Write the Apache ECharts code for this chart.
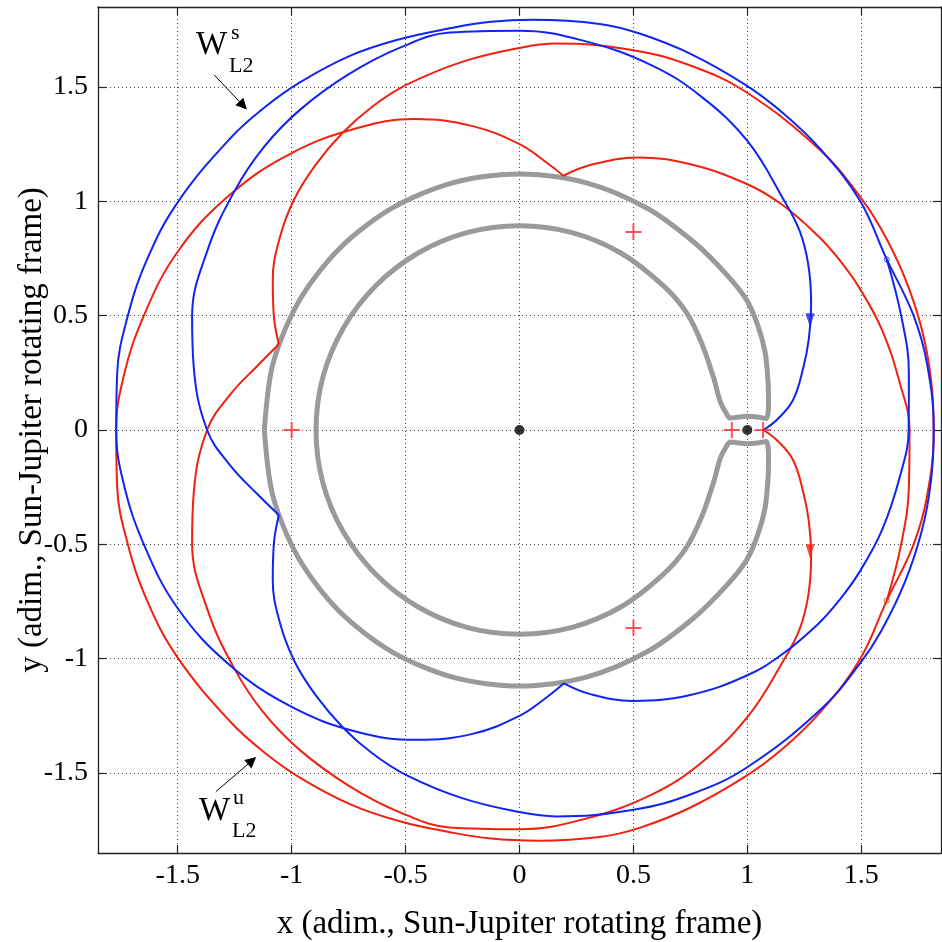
<!DOCTYPE html>
<html>
<head>
<meta charset="utf-8">
<script src="https://cdn.jsdelivr.net/npm/echarts@6/dist/echarts.min.js"></script>
<style>
html,body{margin:0;padding:0;background:#fff;}
#chart{width:942px;height:942px;}
</style>
</head>
<body>
<div id="chart"></div>
<script>
// ---- tick values ----
const xTicks = [-1.5, -1, -0.5, 0, 0.5, 1, 1.5];
const yTicks = [-1.5, -1, -0.5, 0, 0.5, 1, 1.5];

// ---- stable manifold W^s_L2 (blue), split at its two cusps ----
const blueSeg1 = [
  [1.07,0.0],[1.13,0.045],[1.20,0.13],[1.245,0.27],[1.27,0.40],[1.28,0.55],[1.268,0.72],
  [1.23,0.87],[1.155,1.015],[1.001,1.263],[0.798,1.458],[0.580,1.595],[0.279,1.703],
  [0.0,1.746],[-0.306,1.738],[-0.527,1.671],[-0.749,1.556],[-0.965,1.399],[-1.124,1.235],
  [-1.249,1.048],[-1.368,0.79],[-1.437,0.495],[-1.430,0.278],[-1.371,0.0],[-1.269,-0.156],
  [-1.152,-0.279],[-1.056,-0.372]
];
const blueSeg2 = [
  [-1.056,-0.372],[-1.078,-0.496],[-1.083,-0.656],[-1.055,-0.831],[-0.990,-1.007],
  [-0.894,-1.161],[-0.773,-1.303],[-0.645,-1.415],[-0.499,-1.508],[-0.252,-1.610],
  [0.0,-1.671],[0.160,-1.690],[0.501,-1.661],[0.750,-1.594],[0.996,-1.477],[1.323,-1.221],
  [1.493,-1.023],[1.587,-0.880],[1.690,-0.669],[1.766,-0.440],[1.806,-0.222],[1.818,0.0],
  [1.790,0.283],[1.729,0.502],[1.612,0.746],[1.492,1.007],[1.319,1.230],[1.160,1.383],
  [0.997,1.506],[0.753,1.644],[0.527,1.734],[0.352,1.776],[0.060,1.794],[-0.125,1.785],
  [-0.310,1.756],[-0.526,1.709],[-0.742,1.637],[-0.964,1.520],[-1.121,1.409],[-1.268,1.277],
  [-1.498,0.999],[-1.635,0.745],[-1.724,0.481],[-1.766,0.245],[-1.770,0.0],[-1.741,-0.220],
  [-1.651,-0.495],[-1.498,-0.783],[-1.271,-1.029],[-1.004,-1.209],[-0.711,-1.321],
  [-0.451,-1.355],[-0.206,-1.329],[0.0,-1.25],[0.117,-1.171],[0.195,-1.108]
];
const blueSeg3 = [
  [0.195,-1.108],[0.307,-1.154],[0.498,-1.185],[0.750,-1.159],[0.993,-1.076],[1.153,-0.981],
  [1.313,-0.846],[1.404,-0.744],[1.489,-0.626],[1.591,-0.438],[1.671,-0.199],[1.708,0.0],
  [1.709,0.249],[1.676,0.496],[1.612,0.746]
];

// ---- unstable manifold W^u_L2 (red), split at its two cusps ----
const redSeg1 = [
  [1.07,0.0],[1.13,-0.045],[1.20,-0.13],[1.245,-0.27],[1.27,-0.40],[1.28,-0.55],[1.268,-0.72],
  [1.23,-0.87],[1.155,-1.015],[1.001,-1.255],[0.798,-1.455],[0.580,-1.595],[0.279,-1.703],
  [0.0,-1.746],[-0.306,-1.738],[-0.527,-1.671],[-0.749,-1.556],[-0.965,-1.399],[-1.124,-1.235],
  [-1.249,-1.048],[-1.368,-0.79],[-1.437,-0.495],[-1.430,-0.278],[-1.371,0.0],[-1.269,0.156],
  [-1.152,0.279],[-1.056,0.375]
];
const redSeg2 = [
  [-1.056,0.375],[-1.078,0.496],[-1.083,0.656],[-1.055,0.831],[-0.990,1.007],
  [-0.894,1.161],[-0.773,1.303],[-0.645,1.415],[-0.499,1.508],[-0.252,1.610],
  [0.0,1.671],[0.160,1.690],[0.501,1.661],[0.750,1.594],[0.996,1.477],[1.323,1.221],
  [1.493,1.023],[1.587,0.880],[1.690,0.669],[1.766,0.440],[1.806,0.222],[1.818,0.0],
  [1.790,-0.283],[1.729,-0.502],[1.612,-0.746],[1.492,-1.007],[1.319,-1.235],[1.160,-1.390],
  [0.997,-1.512],[0.753,-1.650],[0.527,-1.740],[0.352,-1.780],[0.080,-1.796],[-0.125,-1.787],
  [-0.310,-1.758],[-0.526,-1.711],[-0.742,-1.637],[-0.964,-1.520],[-1.121,-1.409],[-1.268,-1.277],
  [-1.498,-0.999],[-1.635,-0.745],[-1.724,-0.481],[-1.766,-0.245],[-1.770,0.0],[-1.741,0.220],
  [-1.651,0.495],[-1.498,0.783],[-1.271,1.029],[-1.004,1.209],[-0.711,1.321],
  [-0.460,1.360],[-0.206,1.329],[0.0,1.25],[0.117,1.171],[0.193,1.112]
];
const redSeg3 = [
  [0.193,1.112],[0.307,1.158],[0.520,1.192],[0.750,1.162],[0.993,1.078],[1.153,0.985],
  [1.313,0.846],[1.404,0.744],[1.489,0.626],[1.591,0.438],[1.671,0.199],[1.712,0.0],
  [1.709,-0.249],[1.676,-0.496],[1.612,-0.746]
];

// ---- zero-velocity curve (grey), one closed path ----
const zeroVelocity = [
  [-1.12,0.0],[-1.082,0.290],[-0.970,0.560],[-0.792,0.792],[-0.560,0.970],[-0.290,1.082],
  [0.0,1.12],[0.290,1.082],[0.560,0.970],[0.766,0.821],[0.906,0.683],[0.996,0.570],
  [1.045,0.46],[1.078,0.34],[1.091,0.21],[1.093,0.11],[1.082,0.050],[1.045,0.057],
  [1.0,0.060],[0.955,0.056],[0.925,0.052],[0.908,0.072],[0.881,0.124],[0.852,0.228],
  [0.802,0.374],[0.733,0.513],[0.631,0.631],[0.4465,0.773],[0.231,0.863],[0.0,0.893],
  [-0.231,0.863],[-0.4465,0.773],[-0.631,0.631],[-0.773,0.4465],[-0.863,0.231],[-0.893,0.0],
  [-0.863,-0.231],[-0.773,-0.4465],[-0.631,-0.631],[-0.4465,-0.773],[-0.231,-0.863],[0.0,-0.893],
  [0.231,-0.863],[0.4465,-0.773],[0.631,-0.631],[0.733,-0.513],[0.802,-0.374],[0.852,-0.228],
  [0.881,-0.124],[0.908,-0.072],[0.925,-0.052],[0.955,-0.056],[1.0,-0.060],[1.045,-0.057],
  [1.082,-0.050],[1.093,-0.11],[1.091,-0.21],[1.078,-0.34],[1.045,-0.46],[0.996,-0.570],
  [0.906,-0.683],[0.766,-0.821],[0.560,-0.970],[0.290,-1.082],[0.0,-1.12],[-0.290,-1.082],
  [-0.560,-0.970],[-0.792,-0.792],[-0.970,-0.560],[-1.082,-0.290],[-1.12,0.0]
];

// ---- points ----
const librationPoints = [[0.932,0],[1.069,0],[-1.0,0],[0.5,0.866],[0.5,-0.866]];
const primaries = [[0,0],[1.0,0]];
const blueArrow = [[1.275,0.48]];
const redArrow = [[1.275,-0.53]];
const blueEnd = [[1.612,0.746]];
const redEnd = [[1.612,-0.746]];
// annotation arrows (tail, head) in data units
const annotStable = [[-1.340,1.553],[-1.213,1.419]];
const annotUnstable = [[-1.333,-1.582],[-1.174,-1.446]];

const BLUE = '#1024f2';
const RED = '#f2200f';
const GREY = '#9a9a9a';
const FONT = '"Liberation Serif", "Times New Roman", serif';

function lineSeries(data, color, width, z, smooth) {
  return {
    type: 'line', data: data, showSymbol: false, symbol: 'none',
    smooth: smooth, z: z, silent: true,
    lineStyle: { color: color, width: width },
    xAxisIndex: 0, yAxisIndex: 0
  };
}

const axisCommon = { type: 'value', min: -1.85, max: 1.85 };
const frameLine = { show: true, onZero: false, lineStyle: { color: '#222', width: 1.3 } };

const chart = echarts.init(document.getElementById('chart'), null, {renderer: 'canvas'});
const option = {
  animation: false,
  backgroundColor: '#fff',
  grid: { left: 98, top: 7, width: 843, height: 846, show: false, outerBoundsMode: 'none', containLabel: false },
  xAxis: [
    Object.assign({}, axisCommon, {
      position: 'bottom',
      name: 'x (adim., Sun-Jupiter rotating frame)',
      nameLocation: 'middle', nameGap: 55, nameMoveOverlap: false,
      nameTextStyle: { fontFamily: FONT, fontSize: 33, color: '#000' },
      axisLine: frameLine,
      axisTick: { show: true, inside: true, length: 8, customValues: xTicks, lineStyle: { color: '#222', width: 1.2 } },
      axisLabel: { customValues: xTicks, fontFamily: FONT, fontSize: 28, color: '#000', margin: 9 },
      splitLine: { show: true, lineStyle: { color: '#444', width: 1, type: [1, 3] } }
    }),
    Object.assign({}, axisCommon, {
      position: 'top',
      axisLine: frameLine,
      axisTick: { show: true, inside: true, length: 8, customValues: xTicks, lineStyle: { color: '#222', width: 1.2 } },
      axisLabel: { show: false },
      splitLine: { show: false }
    })
  ],
  yAxis: [
    Object.assign({}, axisCommon, {
      position: 'left',
      name: 'y (adim., Sun-Jupiter rotating frame)',
      nameLocation: 'middle', nameGap: 49, nameRotate: 90, nameMoveOverlap: false,
      nameTextStyle: { fontFamily: FONT, fontSize: 33, color: '#000' },
      axisLine: frameLine,
      axisTick: { show: true, inside: true, length: 8, customValues: yTicks, lineStyle: { color: '#222', width: 1.2 } },
      axisLabel: { customValues: yTicks, fontFamily: FONT, fontSize: 28, color: '#000', margin: 10 },
      splitLine: { show: true, lineStyle: { color: '#444', width: 1, type: [1, 3] } }
    }),
    Object.assign({}, axisCommon, {
      position: 'right',
      axisLine: frameLine,
      axisTick: { show: true, inside: true, length: 8, customValues: yTicks, lineStyle: { color: '#222', width: 1.2 } },
      axisLabel: { show: false },
      splitLine: { show: false }
    })
  ],
  series: [
    lineSeries(zeroVelocity, GREY, 5, 2, 0.3),
    lineSeries(redSeg1, RED, 2, 3, 0.4),
    lineSeries(redSeg2, RED, 2, 3, 0.4),
    lineSeries(redSeg3, RED, 2, 3, 0.4),
    lineSeries(blueSeg1, BLUE, 2, 4, 0.4),
    lineSeries(blueSeg2, BLUE, 2, 4, 0.4),
    lineSeries(blueSeg3, BLUE, 2, 4, 0.4),
    {
      type: 'scatter', data: librationPoints,
      symbol: 'path://M-1,-8L1,-8L1,-1L8,-1L8,1L1,1L1,8L-1,8L-1,1L-8,1L-8,-1L-1,-1Z',
      symbolSize: 16, itemStyle: { color: '#ff2a2a' }, z: 5, silent: true
    },
    {
      type: 'scatter', data: primaries, symbol: 'circle', symbolSize: 10,
      itemStyle: { color: '#000' }, z: 6, silent: true
    },
    {
      type: 'scatter', data: blueArrow, symbol: 'triangle', symbolRotate: 180, symbolSize: [9, 14],
      itemStyle: { color: BLUE }, z: 6, silent: true
    },
    {
      type: 'scatter', data: redArrow, symbol: 'triangle', symbolRotate: 180, symbolSize: [9, 14],
      itemStyle: { color: RED }, z: 6, silent: true
    },
    {
      type: 'scatter', data: blueEnd, symbol: 'circle', symbolSize: 5,
      itemStyle: { color: 'rgba(0,0,0,0)', borderColor: BLUE, borderWidth: 1 }, z: 6, silent: true
    },
    {
      type: 'scatter', data: redEnd, symbol: 'circle', symbolSize: 5,
      itemStyle: { color: 'rgba(0,0,0,0)', borderColor: RED, borderWidth: 1 }, z: 6, silent: true,
      markLine: {
        silent: true, animation: false,
        label: { show: false },
        lineStyle: { color: '#000', width: 1, type: 'solid' },
        symbol: ['none', 'triangle'], symbolSize: 11,
        data: [
          [{ coord: annotStable[0] }, { coord: annotStable[1] }],
          [{ coord: annotUnstable[0] }, { coord: annotUnstable[1] }]
        ]
      }
    }
  ],
  graphic: [
    { type: 'text', x: 196, y: 45, z: 10, style: { text: 'W', font: '33px ' + FONT, fill: '#000', align: 'left', verticalAlign: 'middle' } },
    { type: 'text', x: 231, y: 33, z: 10, style: { text: 's', font: '22px ' + FONT, fill: '#000', align: 'left', verticalAlign: 'middle' } },
    { type: 'text', x: 229, y: 66, z: 10, style: { text: 'L2', font: '22px ' + FONT, fill: '#000', align: 'left', verticalAlign: 'middle' } },
    { type: 'text', x: 199, y: 811, z: 10, style: { text: 'W', font: '33px ' + FONT, fill: '#000', align: 'left', verticalAlign: 'middle' } },
    { type: 'text', x: 233, y: 798, z: 10, style: { text: 'u', font: '22px ' + FONT, fill: '#000', align: 'left', verticalAlign: 'middle' } },
    { type: 'text', x: 232, y: 831, z: 10, style: { text: 'L2', font: '22px ' + FONT, fill: '#000', align: 'left', verticalAlign: 'middle' } }
  ]
};
chart.setOption(option);
</script>
</body>
</html>
